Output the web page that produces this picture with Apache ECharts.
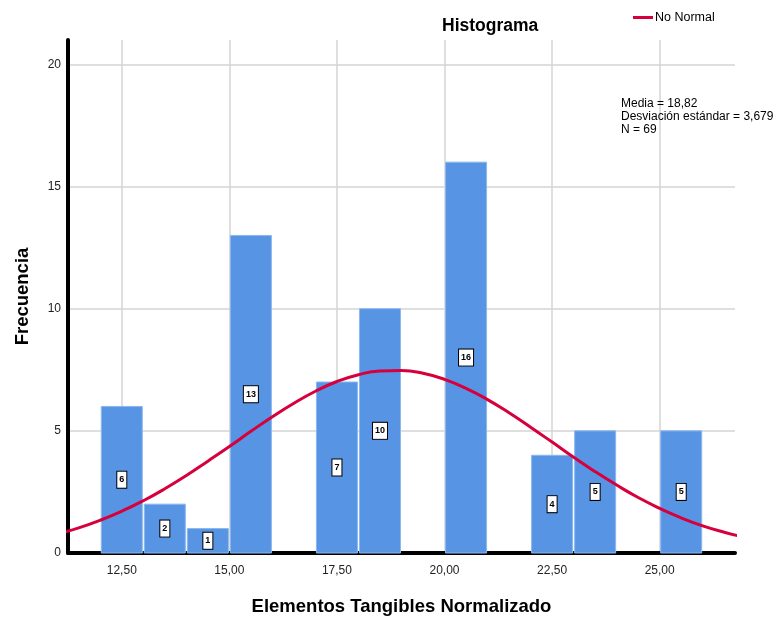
<!DOCTYPE html>
<html>
<head>
<meta charset="utf-8">
<script src="https://cdn.jsdelivr.net/npm/echarts@6/dist/echarts.min.js"></script>
<style>
  html, body { margin: 0; padding: 0; background: #fff; }
  #Histograma { width: 784px; height: 621px; }
</style>
</head>
<body>
<div id="Histograma"></div>
<script>
// bin centres (width 1) and counts
const binCenters = [12.5, 13.5, 14.5, 15.5, 17.5, 18.5, 20.5, 22.5, 23.5, 25.5];
const counts = [6, 2, 1, 13, 7, 10, 16, 4, 5, 5];
// normal curve (media 18,82, desv. 3,679, N 69)
const curveX = [11, 11.5, 12, 12.5, 13, 13.5, 14, 14.5, 15, 15.5, 16, 16.5, 17, 17.5, 18, 18.5, 19,
  19.5, 20, 20.5, 21, 21.5, 22, 22.5, 23, 23.5, 24, 24.5, 25, 25.5, 26, 26.5, 27];
const curveY = [0.78, 1.03, 1.34, 1.71, 2.14, 2.63, 3.17, 3.76, 4.36, 4.98, 5.58, 6.13, 6.62, 7.02, 7.30, 7.45, 7.47,
  7.36, 7.11, 6.74, 6.28, 5.74, 5.15, 4.54, 3.92, 3.33, 2.78, 2.27, 1.83, 1.44, 1.11, 0.85, 0.63];
const yTicks = [0, 5, 10, 15, 20];
const xTickLabels = ['12,50', '15,00', '17,50', '20,00', '22,50', '25,00'];
const statsLines = ['Media = 18,82', 'Desviación estándar = 3,679', 'N = 69'];

let myChart;
const font = '"Liberation Sans", Arial, sans-serif';

const option = {
  animation: false,
  textStyle: { fontFamily: font },
  title: [
    {
      text: 'Histograma',
      left: 437,
      top: 12,
      textStyle: { fontSize: 17.5, fontWeight: 'bold', color: '#000', fontFamily: font }
    },
    {
      text: statsLines.join('\n'),
      left: 616,
      top: 92,
      textStyle: { fontSize: 12, fontWeight: 'normal', color: '#000', lineHeight: 13, fontFamily: font }
    }
  ],
  legend: {
    left: 628,
    top: 6,
    icon: 'rect',
    itemWidth: 20,
    itemHeight: 3,
    itemGap: 3,
    textStyle: { fontSize: 12.5, color: '#000', fontFamily: font, padding: [0, 0, 0, -3] },
    data: ['No Normal']
  },
  grid: { left: 68, top: 40, width: 667, height: 513 },
  xAxis: {
    type: 'value',
    min: 11.25,
    max: 26.75,
    interval: 1.25,
    name: 'Elementos Tangibles Normalizado',
    nameLocation: 'middle',
    nameGap: 44,
    nameTextStyle: { fontSize: 18.5, fontWeight: 'bold', color: '#000', fontFamily: font },
    axisLine: { onZero: false, lineStyle: { color: '#000', width: 4 } },
    axisTick: { show: false },
    axisLabel: {
      margin: 12,
      fontSize: 12,
      color: '#222',
      showMinLabel: false,
      showMaxLabel: false,
      formatter: function (v) {
        const i = Math.round((v - 12.5) / 2.5);
        if (Math.abs(v - (12.5 + i * 2.5)) > 1e-6) return '';
        return xTickLabels[i] || '';
      }
    },
    splitLine: {
      show: true,
      showMinLine: false,
      showMaxLine: false,
      lineStyle: { color: ['#d4d4d4', 'rgba(0,0,0,0)'], width: 1.5 }
    }
  },
  yAxis: {
    type: 'value',
    min: 0,
    max: 21,
    interval: 5,
    name: 'Frecuencia',
    nameLocation: 'middle',
    nameGap: 36,
    nameTextStyle: { fontSize: 18.5, fontWeight: 'bold', color: '#000', fontFamily: font },
    axisLine: { show: true, lineStyle: { color: '#000', width: 4 } },
    axisTick: { show: false },
    axisLabel: {
      margin: 7,
      fontSize: 12,
      color: '#222',
      showMaxLabel: false,
      formatter: function (v) { return yTicks.indexOf(v) >= 0 ? String(v) : ''; }
    },
    splitLine: {
      show: true,
      showMinLine: false,
      showMaxLine: false,
      lineStyle: { color: '#d4d4d4', width: 1.5 }
    }
  },
  series: [
    {
      name: 'Frecuencia',
      type: 'custom',
      z: 2,
      data: binCenters.map((c, i) => [c, counts[i]]),
      renderItem: function (params, api) {
        const c = api.value(0);
        const v = api.value(1);
        const topLeft = api.coord([c - 0.5, v]);
        const bottomRight = api.coord([c + 0.5, 0]);
        const mid = api.coord([c, v / 2]);
        return {
          type: 'group',
          children: [
            {
              type: 'rect',
              shape: {
                x: topLeft[0] + 1,
                y: topLeft[1],
                width: bottomRight[0] - topLeft[0] - 2,
                height: bottomRight[1] - topLeft[1]
              },
              style: { fill: '#5894e4', stroke: '#8cb8ee', lineWidth: 1 }
            },
            {
              type: 'text',
              z2: 10,
              x: mid[0],
              y: mid[1],
              style: {
                text: String(v),
                align: 'center',
                verticalAlign: 'middle',
                fontSize: 9,
                fontWeight: 'bold',
                fontFamily: font,
                fill: '#000',
                backgroundColor: '#fff',
                borderColor: '#000',
                borderWidth: 1,
                padding: [4, 2, 3, 2]
              }
            }
          ]
        };
      }
    },
    {
      name: 'No Normal',
      type: 'line',
      z: 3,
      smooth: true,
      symbol: 'none',
      data: curveX.map((x, i) => [x, curveY[i]]),
      lineStyle: { color: '#d6003c', width: 3 },
      itemStyle: { color: '#d6003c' }
    }
  ]
};

myChart = echarts.init(document.getElementById('Histograma'));
myChart.setOption(option);
window.addEventListener('resize', () => {
  myChart.resize();
});
</script>
</body>
</html>
